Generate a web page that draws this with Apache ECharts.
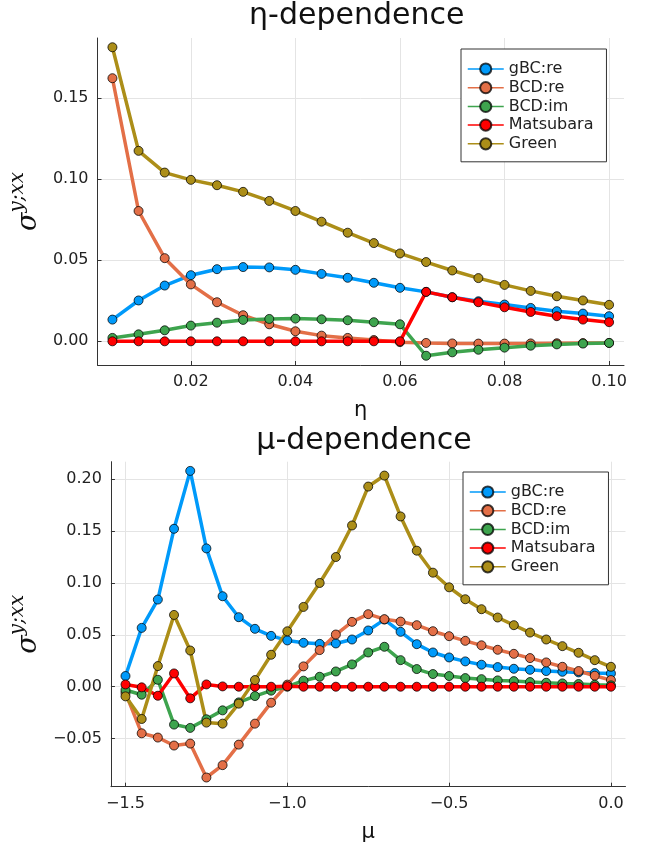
<!DOCTYPE html>
<html><head><meta charset="utf-8">
<script src="https://cdn.jsdelivr.net/npm/echarts@6/dist/echarts.min.js"></script>
<style>html,body{margin:0;padding:0;background:#fff}#c{width:657px;height:846px}</style>
</head><body><div id="c"></div>
<script>
const seriesNames = ['gBC:re', 'BCD:re', 'BCD:im', 'Matsubara', 'Green'];
const colors = ['#009AFA', '#E36F47', '#3EA44E', '#FF0000', '#AC8E18'];

// ---- η-dependence ----
const eta = [0.005, 0.010, 0.015, 0.020, 0.025, 0.030, 0.035, 0.040, 0.045, 0.050,
             0.055, 0.060, 0.065, 0.070, 0.075, 0.080, 0.085, 0.090, 0.095, 0.100];
const gBCre_eta = [0.0134, 0.0252, 0.0344, 0.0408, 0.0445, 0.0458, 0.0456, 0.0441, 0.0416, 0.0392,
                   0.0361, 0.0330, 0.0305, 0.0272, 0.0247, 0.0227, 0.0206, 0.0186, 0.0171, 0.0155];
const BCDre_eta = [0.1623, 0.0804, 0.0513, 0.0351, 0.0241, 0.0161, 0.0105, 0.0062, 0.0035, 0.0021,
                   0.0008, -0.0005, -0.0010, -0.0013, -0.0014, -0.0014, -0.0013, -0.0012, -0.0011, -0.0010];
const BCDim_eta = [0.0021, 0.0043, 0.0068, 0.0097, 0.0115, 0.0132, 0.0138, 0.0140, 0.0136, 0.0130,
                   0.0118, 0.0105, -0.0089, -0.0068, -0.0052, -0.0039, -0.0027, -0.0019, -0.0014, -0.0010];
const Matsubara_eta = [0, 0, 0, 0, 0, 0, 0, 0, 0, 0,
                       0, 0, 0.0305, 0.0272, 0.0241, 0.0210, 0.0181, 0.0155, 0.0134, 0.0118];
const Green_eta = [0.1814, 0.1175, 0.1041, 0.0996, 0.0963, 0.0922, 0.0866, 0.0804, 0.0738, 0.0670,
                   0.0606, 0.0542, 0.0489, 0.0437, 0.0390, 0.0348, 0.0311, 0.0278, 0.0252, 0.0225];
const etaTicks = [0.02, 0.04, 0.06, 0.08, 0.10];
const etaYTicks = [0.00, 0.05, 0.10, 0.15];

// ---- μ-dependence ----
const mu = [-1.50, -1.45, -1.40, -1.35, -1.30, -1.25, -1.20, -1.15, -1.10, -1.05, -1.00,
            -0.95, -0.90, -0.85, -0.80, -0.75, -0.70, -0.65, -0.60, -0.55, -0.50, -0.45, -0.40,
            -0.35, -0.30, -0.25, -0.20, -0.15, -0.10, -0.05, 0.00];
const gBCre_mu = [0.0103, 0.0567, 0.0840, 0.1522, 0.2080, 0.1333, 0.0872, 0.0670, 0.0558, 0.0490, 0.0446,
                  0.0423, 0.0413, 0.0417, 0.0455, 0.0542, 0.0647, 0.0529, 0.0410, 0.0330, 0.0282, 0.0244, 0.0212,
                  0.0189, 0.0173, 0.0163, 0.0151, 0.0144, 0.0138, 0.0131, 0.0128];
const BCDre_mu = [-0.0060, -0.0449, -0.0490, -0.0567, -0.0548, -0.0875, -0.0756, -0.0558, -0.0356, -0.0154, 0.0020,
                  0.0196, 0.0353, 0.0503, 0.0625, 0.0699, 0.0651, 0.0628, 0.0593, 0.0535, 0.0487, 0.0442, 0.0399,
                  0.0356, 0.0317, 0.0276, 0.0234, 0.0192, 0.0151, 0.0106, 0.0064];
const BCDim_mu = [-0.0032, -0.0077, 0.0067, -0.0365, -0.0397, -0.0314, -0.0228, -0.0151, -0.0090, -0.0038, 0.0000,
                  0.0058, 0.0096, 0.0147, 0.0215, 0.0330, 0.0385, 0.0256, 0.0170, 0.0122, 0.0103, 0.0083, 0.0073,
                  0.0061, 0.0054, 0.0045, 0.0038, 0.0032, 0.0026, 0.0019, 0.0013];
const Matsubara_mu = [0.0022, -0.0006, -0.0087, 0.0128, -0.0112, 0.0022, 0.0003, 0.0000, 0.0000, 0.0000, 0.0005,
                      0, 0, 0, 0, 0, 0, 0, 0, 0, 0, 0, 0,
                      0, 0, 0, 0, 0, 0, 0, 0];
const Green_mu = [-0.0093, -0.0311, 0.0199, 0.0692, 0.0349, -0.0346, -0.0356, -0.0163, 0.0064, 0.0308, 0.0534,
                  0.0769, 0.1000, 0.1250, 0.1554, 0.1929, 0.2035, 0.1641, 0.1311, 0.1099, 0.0958, 0.0843, 0.0747,
                  0.0667, 0.0593, 0.0522, 0.0455, 0.0391, 0.0327, 0.0256, 0.0192];
const muTicks = [-1.5, -1.0, -0.5, 0.0];
const muYTicks = [-0.05, 0.00, 0.05, 0.10, 0.15, 0.20];

const etaSets = [gBCre_eta, BCDre_eta, BCDim_eta, Matsubara_eta, Green_eta];
const muSets = [gBCre_mu, BCDre_mu, BCDim_mu, Matsubara_mu, Green_mu];

function pad(arrs) {
  let lo = Infinity, hi = -Infinity;
  arrs.forEach(a => a.forEach(v => { lo = Math.min(lo, v); hi = Math.max(hi, v); }));
  const d = (hi - lo) * 0.03;
  return [lo - d, hi + d];
}
const etaX = pad([eta]); const etaY = pad(etaSets);
const muX = pad([mu]); const muY = pad(muSets);

const fmtMinus = (v, d) => { const s = Math.abs(v).toFixed(d); return (v < -1e-9 ? '\u2212' : '') + s; };
const FONT = 'DejaVu Sans';
const axisCommon = {
  axisLine: { onZero: false, lineStyle: { color: '#333', width: 1 } },
  splitLine: { show: true, lineStyle: { color: '#e4e4e4', width: 1 } },
  nameTextStyle: { fontFamily: FONT, fontSize: 21, color: '#111' }
};
function xAxis(idx, range, ticks, dec, name) {
  return Object.assign({}, axisCommon, {
    type: 'value', gridIndex: idx, min: range[0], max: range[1],
    name: name, nameLocation: 'middle', nameGap: 35,
    axisTick: { inside: true, length: 4, customValues: ticks, lineStyle: { color: '#333' } },
    axisLabel: { customValues: ticks, margin: 9, fontFamily: FONT, fontSize: 16, color: '#222',
      formatter: v => fmtMinus(v, dec) }
  });
}
function yAxis(idx, range, ticks, dec) {
  return Object.assign({}, axisCommon, {
    type: 'value', gridIndex: idx, min: range[0], max: range[1],
    name: '{s|σ}{p|y;xx}', nameLocation: 'middle', nameRotate: 90, nameGap: 46,
    nameTextStyle: {
      rich: {
        s: { fontFamily: 'DejaVu Serif', fontStyle: 'italic', fontSize: 27, color: '#111', lineHeight: 34, verticalAlign: 'bottom' },
        p: { fontFamily: 'DejaVu Serif', fontStyle: 'italic', fontSize: 20, color: '#111', lineHeight: 18, verticalAlign: 'top' }
      }
    },
    axisTick: { inside: true, length: 4, customValues: ticks, lineStyle: { color: '#333' } },
    axisLabel: { customValues: ticks, margin: 9, fontFamily: FONT, fontSize: 16, color: '#222',
      formatter: v => fmtMinus(v, dec) }
  });
}

const series = [];
[[eta, etaSets, 0], [mu, muSets, 1]].forEach(([xs, sets, gi]) => {
  sets.forEach((ys, i) => {
    series.push({
      name: seriesNames[i], type: 'line', xAxisIndex: gi, yAxisIndex: gi,
      data: xs.map((x, k) => [x, ys[k]]),
      symbol: 'circle', symbolSize: 9, showSymbol: true,
      lineStyle: { color: colors[i], width: 3.5 },
      itemStyle: { color: colors[i], borderColor: 'rgba(0,0,0,0.75)', borderWidth: 1 },
      emphasis: { disabled: true }, animation: false
    });
  });
});

function legend(left, top) {
  return {
    data: seriesNames, left: left, top: top, orient: 'vertical',
    itemWidth: 36, itemHeight: 14, itemGap: 2.7,
    padding: [12, 13, 10, 6], borderColor: '#333', borderWidth: 1, borderRadius: 0, backgroundColor: '#fff',
    textStyle: { fontFamily: FONT, fontSize: 16, color: '#222', lineHeight: 16 },
    lineStyle: { width: 1.5 }, selectedMode: false
  };
}

const chart = echarts.init(document.getElementById('c'), null, { renderer: 'canvas' });
chart.setOption({
  animation: false,
  backgroundColor: '#fff',
  grid: [
    { left: 89.4, top: 38, width: 534.6, height: 327 },
    { left: 102.5, top: 461.7, width: 523, height: 325 }
  ],
  xAxis: [xAxis(0, etaX, etaTicks, 2, 'η'), xAxis(1, muX, muTicks, 1, 'μ')],
  yAxis: [yAxis(0, etaY, etaYTicks, 2), yAxis(1, muY, muYTicks, 2)],
  legend: [legend(461, 49), legend(463, 472)],
  graphic: [
    { type: 'text', x: 356.7, y: 1, style: { text: 'η-dependence', fontFamily: FONT, fontSize: 30, fill: '#111', align: 'center', verticalAlign: 'top' } },
    { type: 'text', x: 364, y: 426, style: { text: 'μ-dependence', fontFamily: FONT, fontSize: 30, fill: '#111', align: 'center', verticalAlign: 'top' } }
  ],
  series: series
});
</script></body></html>
